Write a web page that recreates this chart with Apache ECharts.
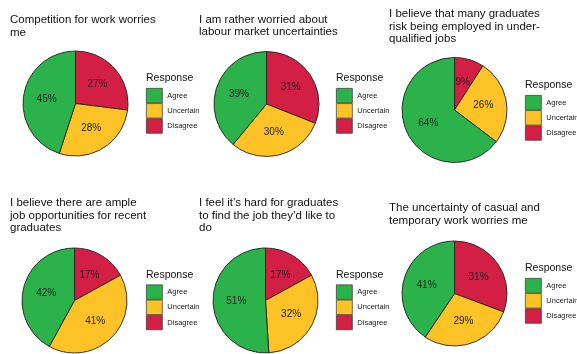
<!DOCTYPE html>
<html>
<head>
<meta charset="utf-8">
<script src="https://cdn.jsdelivr.net/npm/echarts@6/dist/echarts.min.js"></script>
<style>
  html, body { margin: 0; padding: 0; background: #fff; }
  #chart { width: 577px; height: 354px; }
</style>
</head>
<body>
<div id="chart"></div>
<script>
// Survey statements (panel titles)
const questions = [
  'Competition for work worries\nme',
  'I am rather worried about\nlabour market uncertainties',
  'I believe that many graduates\nrisk being employed in under-\nqualified jobs',
  'I believe there are ample\njob opportunities for recent\ngraduates',
  'I feel it\u2019s hard for graduates\nto find the job they\u2019d like to\ndo',
  'The uncertainty of casual and\ntemporary work worries me'
];

// Response categories (legend order) and their fill colours
const responses = ['Agree', 'Uncertain', 'Disagree'];
const responseColors = ['#2bb24b', '#fdc326', '#d41f45'];

// Percentage of respondents per statement
const agree     = [45, 39, 64, 42, 51, 41];
const uncertain = [28, 30, 26, 41, 32, 29];
const disagree  = [27, 31, 9, 17, 17, 31];

// Panel geometry: pie centre, title anchor, legend anchor
const panels = [
  { cx: 75.5,  cy: 103.5, tx: 10,  ty: 14,   lx: 146, ly: 88 },
  { cx: 266.5, cy: 104,   tx: 199, ty: 13.5, lx: 336, ly: 88 },
  { cx: 454.5, cy: 110,   tx: 389, ty: 8,    lx: 525, ly: 95 },
  { cx: 74.5,  cy: 300.5, tx: 10,  ty: 197,  lx: 146, ly: 284.5 },
  { cx: 265.5, cy: 300.5, tx: 199, ty: 197,  lx: 336, ly: 284.5 },
  { cx: 454.5, cy: 293.5, tx: 389, ty: 202,  lx: 525, ly: 278 }
];

const FONT = '"Liberation Sans", Arial, Helvetica, sans-serif';
const R = 52.5;

const title = [];
const legend = [];
const series = [];

panels.forEach((p, i) => {
  title.push({
    text: questions[i],
    left: p.tx, top: p.ty, padding: 0,
    textStyle: { fontFamily: FONT, fontSize: 11.5, fontWeight: 'normal', color: '#111', lineHeight: 12.5 }
  });
  title.push({
    text: 'Response',
    left: p.lx, top: p.ly - 15.5, padding: 0,
    textStyle: { fontFamily: FONT, fontSize: 10.5, fontWeight: 'normal', color: '#111', lineHeight: 12 }
  });
  legend.push({
    data: responses,
    orient: 'vertical',
    left: p.lx, top: p.ly,
    padding: 0,
    itemWidth: 16, itemHeight: 14.5, itemGap: 0,
    icon: 'rect',
    selectedMode: false,
    itemStyle: { borderColor: '#333', borderWidth: 0.7 },
    textStyle: { fontFamily: FONT, fontSize: 7.5, color: '#222' }
  });
  // Slices run clockwise from 12 o'clock: Disagree, Uncertain, Agree
  const vals = { Agree: agree[i], Uncertain: uncertain[i], Disagree: disagree[i] };
  const order = ['Disagree', 'Uncertain', 'Agree'];
  series.push({
    type: 'pie',
    center: [p.cx, p.cy],
    radius: [0, R],
    startAngle: 90,
    clockwise: true,
    avoidLabelOverlap: false,
    silent: true,
    itemStyle: { borderColor: '#222', borderWidth: 0.9 },
    label: {
      show: true, position: 'inside',
      formatter: '{c}%',
      fontFamily: FONT, fontSize: 10, color: '#222'
    },
    labelLine: { show: false },
    data: order.map(name => ({
      name: name,
      value: vals[name],
      itemStyle: { color: responseColors[responses.indexOf(name)] }
    }))
  });
});

const chart = echarts.init(document.getElementById('chart'), null, { renderer: 'canvas' });
chart.setOption({
  animation: false,
  backgroundColor: '#fff',
  title: title,
  legend: legend,
  series: series
});
</script>
</body>
</html>
